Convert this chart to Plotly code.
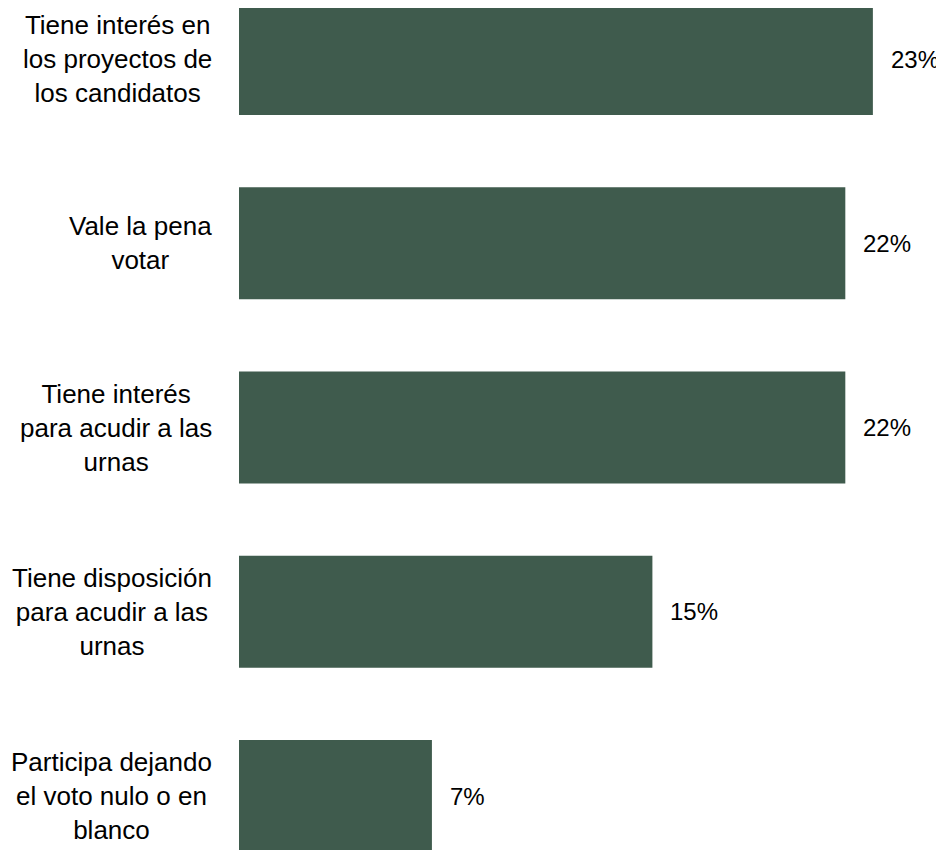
import plotly.graph_objects as go

categories = [
    "Tiene interés en<br>los proyectos de<br>los candidatos",
    "Vale la pena<br>votar",
    "Tiene interés<br>para acudir a las<br>urnas",
    "Tiene disposición<br>para acudir a las<br>urnas",
    "Participa dejando<br>el voto nulo o en<br>blanco",
]
values = [23, 22, 22, 15, 7]
value_labels = ["23%", "22%", "22%", "15%", "7%"]

BAR_COLOR = "#3F5B4D"
FONT = "Liberation Sans, Arial, sans-serif"

fig = go.Figure()
fig.add_trace(go.Bar(
    x=values,
    y=categories,
    orientation="h",
    marker=dict(color=BAR_COLOR, line=dict(width=0)),
    width=0.608,
    hoverinfo="skip",
))

annotations = []
for cat, v, lab in zip(categories, values, value_labels):
    annotations.append(dict(
        x=v, y=cat, xref="x", yref="y", text=lab, showarrow=False,
        xanchor="left", yanchor="middle", xshift=16,
        font=dict(family=FONT, size=24, color="#000000"),
    ))
    annotations.append(dict(
        x=0, y=cat, xref="x", yref="y", text=cat, showarrow=False,
        xanchor="right", yanchor="middle", align="center", xshift=-25,
        font=dict(family=FONT, size=26, color="#000000"),
    ))

fig.update_layout(
    width=936, height=842,
    margin=dict(l=231, r=16, t=0, b=0, pad=0),
    paper_bgcolor="white", plot_bgcolor="white",
    showlegend=False,
    annotations=annotations,
    xaxis=dict(range=[0, 25], visible=False, showgrid=False, zeroline=False),
    yaxis=dict(
        categoryorder="array", categoryarray=categories,
        range=[4.293, -0.277],
        showgrid=False, zeroline=False, showticklabels=False, showline=False,
    ),
)

fig.write_html("out.html")
